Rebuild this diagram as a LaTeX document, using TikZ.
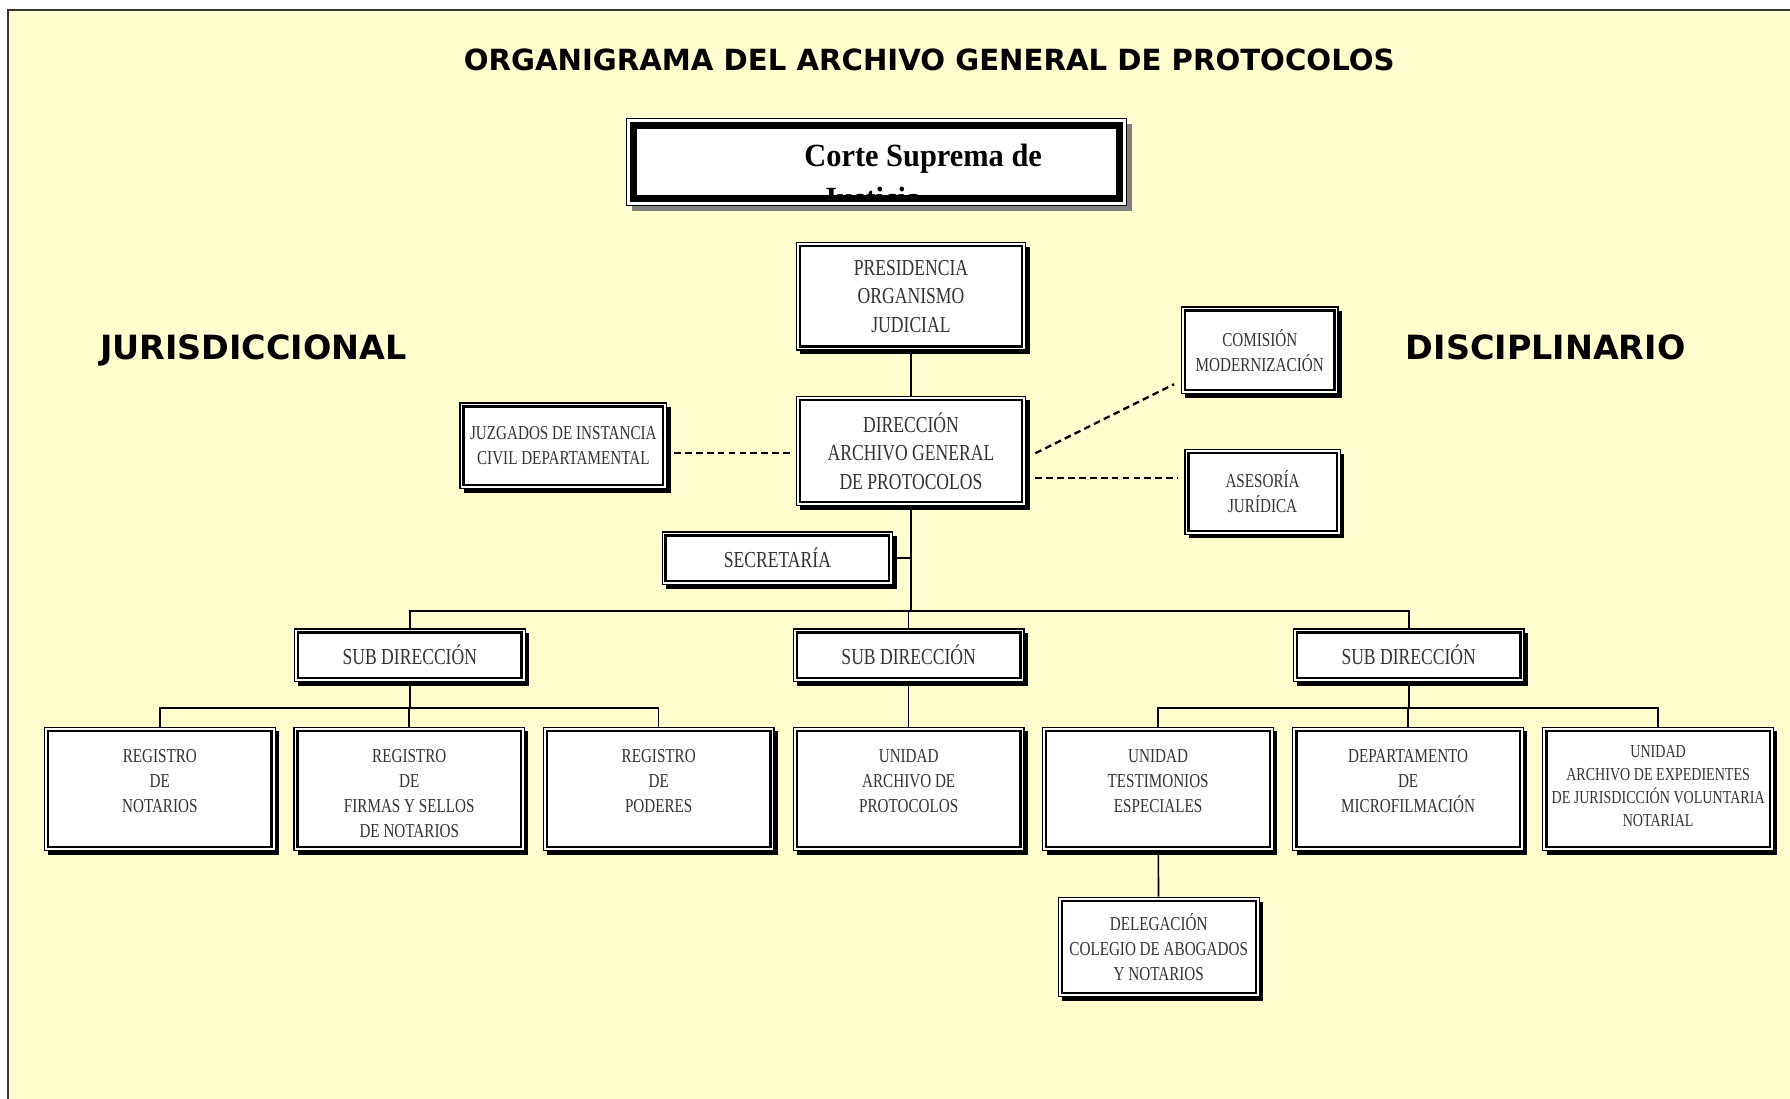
\documentclass[tikz,border=0pt]{standalone}
\usepackage{fontspec}
\usepackage{tikz}
\usetikzlibrary{positioning, calc, shadows}
\newfontfamily\orgfont[FakeStretch=0.77]{Liberation Serif}
\newfontfamily\cortefont[FakeStretch=0.94]{Liberation Serif}
\newfontfamily\headfont{DejaVu Sans}
\definecolor{paperyellow}{RGB}{255,253,206}
\definecolor{framegray}{RGB}{55,55,55}
\tikzset{
  px/.style 2 args={minimum width=#1*0.011416cm, minimum height=#2*0.011416cm},
  unitbox/.style={rectangle, draw=black, line width=0.35pt, fill=white,
    inner sep=0pt, align=center, text=black!80,
    font=\orgfont\fontsize{6.5}{8.1}\selectfont,
    drop shadow={shadow xshift=1.1pt, shadow yshift=-1.2pt, fill=black, opacity=1},
    path picture={\draw[line width=0.65pt]
      ([xshift=1pt,yshift=-1pt]path picture bounding box.north west) rectangle
      ([xshift=-1pt,yshift=1pt]path picture bounding box.south east);}},
  smallbox/.style={unitbox, font=\orgfont\fontsize{5.6}{7.15}\selectfont},
  rowtext/.style={anchor=north, yshift=-6.2pt, align=center, inner sep=0pt,
    text=black!80, font=\orgfont\fontsize{5.6}{7.15}\selectfont},
  tinytext/.style={anchor=north, yshift=-5.1pt, align=center, inner sep=0pt,
    text=black!80, font=\orgfont\fontsize{5.2}{6.6}\selectfont},
  cortebox/.style={rectangle, draw=black, line width=0.4pt, fill=white,
    drop shadow={shadow xshift=1.6pt, shadow yshift=-1.6pt, fill=black!50, opacity=1},
    path picture={\draw[line width=2pt]
      ([xshift=2pt,yshift=-2pt]path picture bounding box.north west) rectangle
      ([xshift=-2pt,yshift=2pt]path picture bounding box.south east);}},
  cortetext/.style={anchor=north west, align=left, inner sep=0pt,
    font=\cortefont\bfseries\fontsize{9.2}{12.3}\selectfont},
  headtext/.style={anchor=base, inner sep=0pt, font=\headfont\bfseries\fontsize{8.3}{10}\selectfont},
  sidetext/.style={anchor=base, inner sep=0pt, font=\headfont\bfseries\fontsize{9.5}{11}\selectfont},
  link/.style={draw=black, line width=0.45pt},
  dashlink/.style={draw=black, line width=0.65pt, dash pattern=on 1.9pt off 1.2pt}
}

\begin{document}
\begin{tikzpicture}[x=0.011416cm, y=-0.011416cm]
  \useasboundingbox (0,0) rectangle (1568,962);
  % Page background and frame
  \fill[paperyellow] (7,9) rectangle (1580,975);
  \draw[framegray, line width=0.5pt] (7,975) -- (7,9) -- (1580,9);

  % Headings
  \node[headtext] (title) at (814,61.5) {ORGANIGRAMA DEL ARCHIVO GENERAL DE PROTOCOLOS};
  \node[sidetext] (jurlbl) at (222,315) {JURISDICCIONAL};
  \node[sidetext] (dislbl) at (1354,315) {DISCIPLINARIO};

  % Corte Suprema (text cut by the box)
  \node[cortebox, px={438}{76}] (corte) at (768,142) {};
  \begin{scope}
    \clip ([shift={(9.5,9.5)}]corte.north west) rectangle ([shift={(-9.5,-9.5)}]corte.south east);
    \node[cortetext] (cortetxt) at (704,125.7) {Corte Suprema de\\\hspace*{4.9pt}Justicia};
  \end{scope}

  % Upper boxes
  \node[unitbox, px={201}{94}] (pres) at (798,259.5) {PRESIDENCIA\\ORGANISMO\\JUDICIAL};
  \node[unitbox, px={201}{96}] (dir) at (798,395) {DIRECCIÓN\\ARCHIVO GENERAL\\DE PROTOCOLOS};
  \node[smallbox, px={181}{75}] (juz) at (493.5,390.5) {JUZGADOS DE INSTANCIA\\CIVIL DEPARTAMENTAL};
  \node[smallbox, px={137}{76}] (com) at (1103.5,307) {COMISIÓN\\MODERNIZACIÓN};
  \node[smallbox, px={136}{74}] (ase) at (1106,431) {ASESORÍA\\JURÍDICA};
  \node[unitbox, px={202}{46}] (sec) at (681,489) {SECRETARÍA};

  % Sub direcciones
  \node[unitbox, px={202}{46}] (sub1) at (359,574) {SUB DIRECCIÓN};
  \node[unitbox, px={202}{46}] (sub2) at (796,574) {SUB DIRECCIÓN};
  \node[unitbox, px={202}{46}] (sub3) at (1234,574) {SUB DIRECCIÓN};

  % Lower row
  \node[unitbox, px={202}{108}, label={[rowtext]north:{REGISTRO\\DE\\NOTARIOS}}] (reg1) at (140,691) {};
  \node[unitbox, px={202}{108}, label={[rowtext]north:{REGISTRO\\DE\\FIRMAS Y SELLOS\\DE NOTARIOS}}] (reg2) at (358.5,691) {};
  \node[unitbox, px={202}{108}, label={[rowtext]north:{REGISTRO\\DE\\PODERES}}] (reg3) at (577,691) {};
  \node[unitbox, px={202}{108}, label={[rowtext]north:{UNIDAD\\ARCHIVO DE\\PROTOCOLOS}}] (uarch) at (796,691) {};
  \node[unitbox, px={202}{108}, label={[rowtext]north:{UNIDAD\\TESTIMONIOS\\ESPECIALES}}] (utest) at (1014.5,691) {};
  \node[unitbox, px={202}{108}, label={[rowtext]north:{DEPARTAMENTO\\DE\\MICROFILMACIÓN}}] (dmicro) at (1233.5,691) {};
  \node[unitbox, px={202}{108}, label={[tinytext]north:{UNIDAD\\ARCHIVO DE EXPEDIENTES\\DE JURISDICCIÓN VOLUNTARIA\\NOTARIAL}}] (uexp) at (1452.5,691) {};
  \node[smallbox, px={176}{87}] (deleg) at (1015,829.5) {DELEGACIÓN\\COLEGIO DE ABOGADOS\\Y NOTARIOS};

  % Bus points
  \coordinate (tbus) at (798,535);
  \coordinate (lbus) at (359,620);
  \coordinate (rbus) at (1234,620);

  % Solid connectors
  \draw[link] (pres) -- (dir);
  \draw[link] (dir.south) -- (tbus);
  \draw[link] (sec.east) -- (sec.east -| tbus);
  \draw[link] (tbus) -| (sub1.north);
  \draw[link] (tbus) -| (sub2.north);
  \draw[link] (tbus) -| (sub3.north);
  \draw[link] (sub1.south) -- (lbus) -| (reg1.north);
  \draw[link] (lbus) -| (reg2.north);
  \draw[link] (lbus) -| (reg3.north);
  \draw[link] (sub2) -- (uarch);
  \draw[link] (sub3.south) -- (rbus) -| (utest.north);
  \draw[link] (rbus) -| (dmicro.north);
  \draw[link] (rbus) -| (uexp.north);
  \draw[link] (utest) -- (deleg);

  % Dashed connectors
  \draw[dashlink] ($(juz.east)+(6,6.5)$) -- ($(dir.west)+(-4,2)$);
  \draw[dashlink] ($(dir.east)+(8,2)$) -- ($(com.south west)+(-6,-9)$);
  \draw[dashlink] ($(dir.east)+(8,24)$) -- ($(ase.west)+(-6,-12)$);
\end{tikzpicture}
\end{document}
